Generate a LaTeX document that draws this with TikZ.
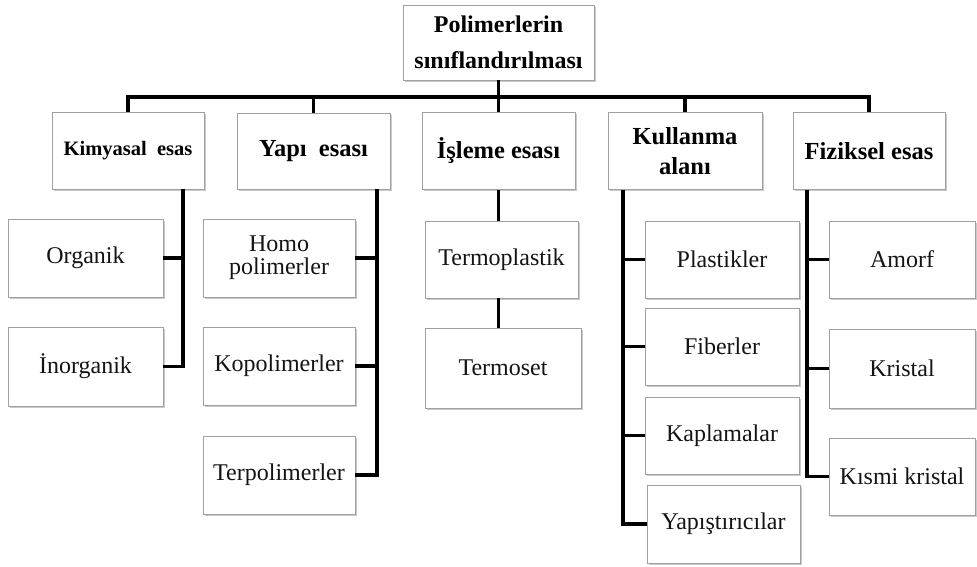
\documentclass[tikz,border=0pt]{standalone}
\usepackage{fontspec}
\setmainfont{Liberation Serif}
\usetikzlibrary{shadows}
\definecolor{boxgray}{HTML}{A0A0A0}
\begin{document}
\begin{tikzpicture}[x=1pt,y=-1pt,
  box/.style={draw=boxgray, line width=0.8pt, fill=white, inner sep=1pt, align=center,
    drop shadow={shadow xshift=1.6pt, shadow yshift=-1.8pt, fill=black!35, opacity=0.6},
    font=\fontsize{24}{23}\selectfont, text=black!92},
  head/.style={box, font=\fontsize{24.5}{30}\selectfont\bfseries, text=black},
  conn/.style={line width=3.6pt, line join=miter, draw=black}]
\useasboundingbox (0,0) rectangle (977,566);
% level 0
\node[head, minimum width=191pt, minimum height=75pt, font=\fontsize{24}{36}\selectfont\bfseries] (root) at (498.5,42.5) {Polimerlerin\\sınıflandırılması};
% level 1
\node[head, minimum width=152pt, minimum height=77pt, font=\fontsize{20.5}{24}\selectfont\bfseries] (kim) at (128,150.5) {Kimyasal\hspace{0.25em} esas};
\node[head, minimum width=153pt, minimum height=76pt] (yap) at (313.5,151) {Yapı\hspace{0.25em} esası};
\node[head, minimum width=153pt, minimum height=77pt] (isl) at (498.5,151) {İşleme esası};
\node[head, minimum width=154pt, minimum height=77pt] (kul) at (685,151) {Kullanma\\alanı};
\node[head, minimum width=152pt, minimum height=77pt] (fiz) at (869,151) {Fiziksel esas};
% level 2
\node[box, minimum width=155pt, minimum height=78pt] (org) at (85.5,258) {Organik};
\node[box, minimum width=155pt, minimum height=79pt] (inorg) at (85.5,366.5) {İnorganik};
\node[box, minimum width=152pt, minimum height=78pt] (homo) at (279,258) {Homo\\polimerler};
\node[box, minimum width=152pt, minimum height=78pt] (kopo) at (279,366) {Kopolimerler};
\node[box, minimum width=152pt, minimum height=78pt] (terp) at (279,475) {Terpolimerler};
\node[box, minimum width=153pt, minimum height=77pt] (tplast) at (501.5,259.5) {Termoplastik};
\node[box, minimum width=156pt, minimum height=80pt] (tset) at (503,368) {Termoset};
\node[box, minimum width=154pt, minimum height=77pt] (plast) at (722,259.5) {Plastikler};
\node[box, minimum width=154pt, minimum height=77pt] (fib) at (722,346.5) {Fiberler};
\node[box, minimum width=154pt, minimum height=77pt] (kapl) at (722,435.5) {Kaplamalar};
\node[box, minimum width=153pt, minimum height=78pt] (yapis) at (723.5,524) {Yapıştırıcılar};
\node[box, minimum width=146pt, minimum height=77pt] (amorf) at (902,259.5) {Amorf};
\node[box, minimum width=146pt, minimum height=79pt] (krist) at (902,368.5) {Kristal};
\node[box, minimum width=146pt, minimum height=77pt] (kismi) at (902,476.5) {Kısmi kristal};
% bus
\coordinate (busL) at (128,97);
\coordinate (busR) at (869,97);
\draw[conn] (kim.north) -- (busL) -- (busR) -- (fiz.north);
\draw[conn] (root.south) -- (isl.north);
\draw[conn] (yap.north) -- (yap.north |- busL);
\draw[conn] (kul.north) -- (kul.north |- busL);
% Kimyasal children
\coordinate (kv) at (183,0);
\draw[conn] (kim.south -| kv) |- (inorg.east);
\draw[conn] (org.east) -- (org.east -| kv);
% Yapi children
\coordinate (yv) at (377,0);
\draw[conn] (yap.south -| yv) |- (terp.east);
\draw[conn] (homo.east) -- (homo.east -| yv);
\draw[conn] (kopo.east) -- (kopo.east -| yv);
% Isleme children
\draw[conn] (isl.south) -- (isl.south |- tplast.north);
\draw[conn] (tplast.south -| isl.south) -- (tset.north -| isl.south);
% Kullanma children
\coordinate (kv2) at (623,0);
\draw[conn] (kul.south -| kv2) |- (yapis.west);
\draw[conn] (plast.west) -- (plast.west -| kv2);
\draw[conn] (fib.west) -- (fib.west -| kv2);
\draw[conn] (kapl.west) -- (kapl.west -| kv2);
% Fiziksel children
\coordinate (fv) at (807,0);
\draw[conn] (fiz.south -| fv) |- (kismi.west);
\draw[conn] (amorf.west) -- (amorf.west -| fv);
\draw[conn] (krist.west) -- (krist.west -| fv);
\end{tikzpicture}
\end{document}
